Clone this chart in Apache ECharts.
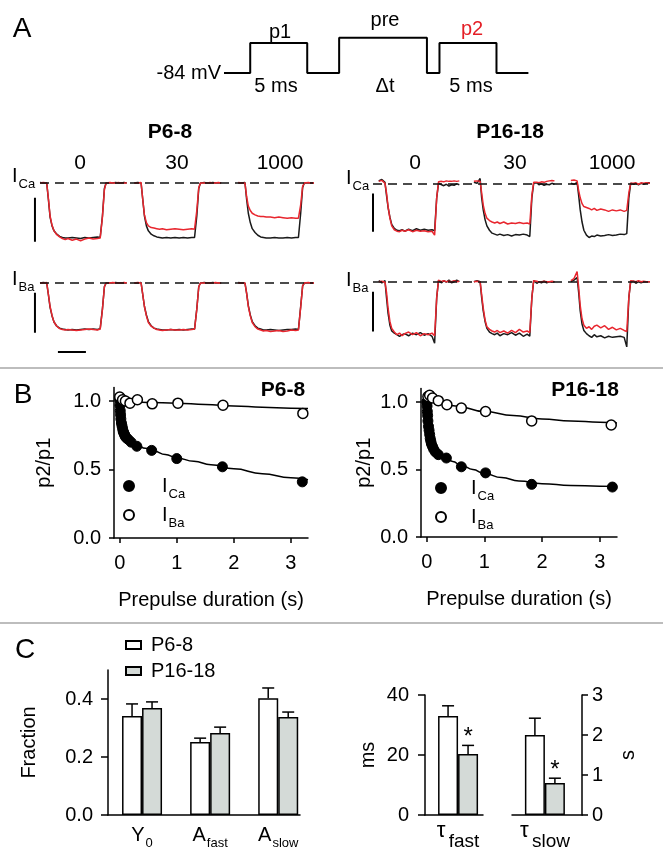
<!DOCTYPE html>
<html><head><meta charset="utf-8">
<script src="https://cdn.jsdelivr.net/npm/echarts@6/dist/echarts.min.js"></script>
<style>html,body{margin:0;padding:0;background:#fff}#c{width:663px;height:860px}</style>
</head><body><div id="c"></div>
<script>
const FONT = "'Liberation Sans', Arial, Helvetica, sans-serif";
const BLACK = '#1a1a1a', RED = '#e8262e', GRAY = '#d4dad7';

// ---------- Panel A: voltage protocol ----------
const protoT = [0, 2.3, 2.3, 7.3, 7.3, 10.1, 10.1, 17.8, 17.8, 18.9, 18.9, 23.9, 23.9, 26.7];
const protoV = [-84, -84, 0, 0, -84, -84, 15, 15, -84, -84, 0, 0, -84, -84];

// ---------- Panel A: current traces (normalized amplitude) ----------
const sweepT = [0,1.2,2.4,3.0,3.6,4.3,5,6,7,8,9,10,11.5,13,14.5,16,17.5,19,20.5,21.5,22.3,23,23.6,24.2,25,26,27,28,29,30,31];
const delayLabels = ['0', '30', '1000'];
const sweepOffsetsL = [0, 33.7, 70.8];
const sweepOffsetsR = [2.2, 38.8, 76.1];

const lCaBlack = [
 [0.01,0,0,-0.3,-0.62,-0.78,-0.87,-0.93,-0.97,-0.99,-1.0,-1.0,-0.99,-1.0,-1.01,-0.99,-1.0,-0.99,-0.98,-0.99,-0.6,-0.1,0,0.01,0,0,0.01,0,0,0.01,0],
 [0,0.01,0,-0.3,-0.6,-0.78,-0.87,-0.93,-0.96,-0.98,-0.99,-1.0,-0.99,-1.0,-0.99,-1.0,-0.99,-1.0,-0.99,-0.99,-0.6,-0.1,0,0,0.01,0,0,0.01,0,0,0],
 [0,0,0.01,-0.3,-0.55,-0.72,-0.83,-0.9,-0.95,-0.98,-0.99,-1.0,-1.0,-0.99,-1.0,-1.0,-0.99,-1.0,-0.99,-0.99,-0.55,-0.08,0,0.01,0,0,0,0.01,0,0,0]
];
const lCaRed = [
 [0,0.01,0,-0.28,-0.6,-0.77,-0.87,-0.94,-0.98,-1.01,-1.03,-1.01,-1.04,-1.02,-1.05,-1.02,-1.0,-1.02,-1.01,-1.0,-0.62,-0.12,0,0,0.01,0,0,0.01,0,0,0],
 [0,0,0.01,-0.3,-0.58,-0.72,-0.78,-0.81,-0.82,-0.83,-0.84,-0.83,-0.85,-0.84,-0.83,-0.84,-0.85,-0.84,-0.83,-0.84,-0.5,-0.08,0,0.01,0,0,0.01,0,0,0.01,0],
 [0.01,0,0,-0.25,-0.42,-0.5,-0.55,-0.58,-0.6,-0.61,-0.61,-0.62,-0.62,-0.63,-0.62,-0.63,-0.64,-0.63,-0.64,-0.64,-0.4,-0.06,0,0,0.01,0,0,0,0.01,0,0]
];
const lBaBlack = [
 [0,0.01,0,-0.25,-0.52,-0.7,-0.83,-0.92,-0.96,-0.98,-0.99,-1.0,-0.99,-1.0,-0.99,-0.98,-0.99,-0.98,-0.99,-0.97,-0.55,-0.08,0,0.01,0,0,0.01,0,0,0,0],
 [0,0,0.01,-0.25,-0.5,-0.68,-0.82,-0.91,-0.96,-0.98,-0.99,-1.0,-1.0,-0.99,-1.0,-0.99,-1.0,-0.99,-0.98,-0.98,-0.55,-0.08,0,0,0.01,0,0,0.01,0,0,0],
 [0.01,0,0,-0.22,-0.48,-0.68,-0.82,-0.91,-0.96,-0.98,-1.0,-1.0,-0.99,-1.0,-1.01,-1.0,-0.99,-0.99,-0.98,-0.99,-0.5,-0.06,0,0.01,0,0,0,0.01,0,0,0]
];
const lBaRed = [
 [0,0,0.01,-0.24,-0.5,-0.69,-0.83,-0.92,-0.97,-0.99,-1.0,-0.99,-1.0,-1.01,-1.0,-0.99,-0.98,-0.99,-1.0,-0.98,-0.56,-0.08,0,0,0,0.01,0,0,0,0.01,0],
 [0,0.01,0,-0.24,-0.5,-0.7,-0.84,-0.92,-0.96,-0.99,-1.0,-1.01,-1.0,-0.99,-1.0,-1.0,-0.99,-1.0,-0.99,-0.98,-0.56,-0.08,0,0.01,0,0,0,0,0.01,0,0],
 [0,0,0,-0.22,-0.5,-0.7,-0.84,-0.93,-0.98,-1.0,-1.02,-1.01,-1.03,-1.02,-1.01,-1.03,-1.02,-1.0,-1.01,-1.0,-0.52,-0.06,0,0,0.01,0,0,0,0,0.01,0]
];
const rCaBlack = [
 [0.05,0.08,0.02,-0.25,-0.5,-0.7,-0.85,-0.93,-0.97,-0.98,-0.96,-0.99,-0.95,-0.98,-0.94,-0.97,-0.95,-0.97,-0.96,-0.98,-0.3,0.0,0.02,-0.03,-0.05,-0.02,-0.06,-0.03,-0.04,-0.01,-0.03],
 [0.02,0.0,0.1,-0.3,-0.55,-0.75,-0.88,-0.97,-1.03,-1.05,-1.07,-1.05,-1.08,-1.06,-1.09,-1.06,-1.07,-1.05,-1.07,-1.1,-0.3,0.0,-0.02,0.01,-0.03,-0.01,-0.04,-0.02,-0.03,0.0,-0.02],
 [0.0,-0.02,0.02,-0.25,-0.55,-0.8,-0.97,-1.07,-1.12,-1.09,-1.1,-1.07,-1.09,-1.08,-1.06,-1.08,-1.07,-1.05,-1.06,-1.04,-0.3,0.0,0.02,-0.02,0.0,-0.03,0.0,-0.02,0.0,0.01,0.0]
];
const rCaRed = [
 [0.04,0.06,0.0,-0.2,-0.48,-0.72,-0.88,-0.96,-0.99,-1.0,-0.97,-0.99,-0.96,-1.0,-0.97,-0.99,-0.98,-1.0,-0.99,-1.07,-0.3,0.03,0.02,0.04,0.03,0.05,0.04,0.04,0.05,0.04,0.05],
 [0.04,0.05,0.04,-0.2,-0.45,-0.62,-0.72,-0.77,-0.8,-0.82,-0.8,-0.83,-0.8,-0.84,-0.82,-0.83,-0.81,-0.83,-0.82,-0.84,-0.25,0.02,0.0,0.02,0.01,0.03,0.02,0.04,0.05,0.06,0.05],
 [0.06,0.07,0.05,-0.15,-0.3,-0.42,-0.48,-0.5,-0.52,-0.55,-0.52,-0.56,-0.53,-0.55,-0.58,-0.55,-0.57,-0.55,-0.58,-0.56,-0.2,0.0,0.02,0.0,0.01,-0.02,0.01,0.0,0.01,0.0,0.01]
];
const rBaBlack = [
 [0.02,-0.02,0.02,-0.3,-0.6,-0.82,-0.93,-0.97,-1.0,-1.03,-1.0,-0.98,-1.02,-0.97,-1.0,-0.96,-1.01,-0.98,-1.03,-1.16,-0.3,0.02,0.0,-0.02,0.02,-0.01,0.03,-0.02,0.0,0.03,0.0],
 [0.0,0.02,0.0,-0.3,-0.55,-0.75,-0.88,-0.95,-0.98,-1.0,-0.97,-1.02,-0.98,-1.0,-0.96,-1.01,-0.97,-1.03,-0.99,-1.03,-0.3,0.02,0.0,-0.03,0.0,-0.02,0.01,-0.02,0.0,-0.01,0.0],
 [0.0,0.03,0.08,-0.2,-0.55,-0.8,-0.92,-0.98,-1.02,-1.05,-1.0,-1.04,-1.02,-1.06,-1.03,-1.05,-1.04,-1.03,-1.05,-1.23,-0.3,0.0,-0.02,0.01,-0.03,0.0,-0.02,0.0,0.0,0.0,0.0]
];
const rBaRed = [
 [0.0,0.01,-0.01,-0.2,-0.5,-0.75,-0.88,-0.95,-1.0,-0.97,-1.02,-0.98,-0.95,-1.0,-0.96,-1.02,-0.98,-1.0,-0.97,-1.02,-0.3,0.03,0.01,0.0,0.02,0.0,0.01,0.0,0.02,0.0,0.01],
 [0.0,0.01,0.0,-0.25,-0.5,-0.72,-0.85,-0.9,-0.93,-0.95,-0.92,-0.96,-0.93,-0.97,-0.92,-0.96,-0.9,-0.95,-0.93,-0.96,-0.3,0.02,0.0,0.01,-0.01,0.0,0.01,0.0,0.0,0.01,0.0],
 [0.02,0.06,0.19,-0.1,-0.45,-0.7,-0.82,-0.88,-0.85,-0.9,-0.84,-0.82,-0.87,-0.83,-0.9,-0.86,-0.91,-0.88,-0.92,-0.94,-0.3,0.02,0.0,0.01,0.0,0.02,0.0,0.01,0.0,0.0,0.0]
];
// scale bars (data units of each trace panel)
const lCaBar = [[-1.8, -0.27], [-1.8, -1.07]];
const lBaBar = [[-1.8, -0.21], [-1.8, -1.06]];
const lTimeBar = [[6.4, -1.47], [16.4, -1.47]];
const rCaBar = [[0, -0.21], [0, -1.0]];
const rBaBar = [[0, -0.19], [0, -0.94]];

// ---------- Panel B: p2/p1 vs prepulse duration ----------
const bTicksX = [0, 1, 2, 3];
const bTicksY = [0, 0.5, 1.0];
const bLeftCaX = [0,0.005,0.01,0.015,0.02,0.03,0.04,0.05,0.06,0.07,0.08,0.09,0.1,0.12,0.15,0.2,0.3,0.56,1.0,1.8,3.2];
const bLeftCaY = [1.01,0.97,0.93,0.9,0.87,0.84,0.82,0.8,0.78,0.77,0.76,0.75,0.74,0.73,0.72,0.7,0.67,0.64,0.58,0.52,0.41];
const bLeftBaX = [0,0.05,0.1,0.18,0.31,0.57,1.02,1.81,3.21];
const bLeftBaY = [1.03,1.01,1.0,0.985,1.01,0.98,0.985,0.97,0.91];
const bRightCaX = [0,0.005,0.01,0.015,0.02,0.03,0.04,0.05,0.06,0.07,0.08,0.1,0.12,0.15,0.2,0.34,0.6,1.02,1.82,3.22];
const bRightCaY = [1.0,0.97,0.93,0.9,0.86,0.82,0.79,0.76,0.73,0.71,0.69,0.67,0.65,0.63,0.61,0.585,0.52,0.475,0.39,0.37];
const bRightBaX = [0.02,0.05,0.1,0.2,0.35,0.6,1.02,1.82,3.2];
const bRightBaY = [1.04,1.05,1.03,1.01,0.98,0.955,0.93,0.86,0.83];
const fitLeftCaX = [0,0.01,0.02,0.04,0.07,0.1,0.15,0.2,0.3,0.45,0.6,0.8,1.0,1.3,1.6,2.0,2.5,3.0,3.3];
const fitLeftCaY = [1.0,0.93,0.88,0.82,0.77,0.75,0.73,0.71,0.68,0.655,0.635,0.61,0.585,0.56,0.535,0.505,0.47,0.44,0.425];
const fitLeftBaX = [0,0.5,1,1.5,2,2.5,3,3.3];
const fitLeftBaY = [1.0,0.99,0.985,0.975,0.965,0.955,0.948,0.945];
const fitRightCaX = [0,0.01,0.02,0.04,0.07,0.1,0.15,0.2,0.3,0.45,0.6,0.8,1.0,1.3,1.6,2.0,2.5,3.0,3.3];
const fitRightCaY = [1.0,0.93,0.87,0.8,0.73,0.69,0.65,0.625,0.595,0.56,0.53,0.5,0.47,0.44,0.415,0.395,0.382,0.376,0.375];
const fitRightBaX = [0,0.2,0.5,1.0,1.5,2.0,2.5,3.0,3.3];
const fitRightBaY = [1.02,1.0,0.97,0.93,0.9,0.875,0.86,0.85,0.845];

// ---------- Panel C: fit parameters ----------
const cGroups = ['P6-8', 'P16-18'];
const cCatLabels = ['{m|Y}{s|0}', '{m|A}{s|fast}', '{m|A}{s|slow}'];
const cTicksY = [0, 0.2, 0.4];
const cWhite = [0.341, 0.252, 0.403];
const cWhiteErr = [0.383, 0.265, 0.438];
const cGray = [0.369, 0.283, 0.338];
const cGrayErr = [0.390, 0.303, 0.355];
const tauFastTicks = [0, 20, 40];
const tauFast = [33.0, 20.3];
const tauFastErr = [36.4, 23.2];
const tauFastSig = [0, 1];
const tauSlowTicks = [0, 1, 2, 3];
const tauSlow = [2.0, 0.80];
const tauSlowErr = [2.42, 0.92];
const tauSlowSig = [0, 1];

// ================= build =================
const axisLineStyle = {color: '#000', width: 1.5};
const hiddenAxis = (gi, min, max) => ({gridIndex: gi, type: 'value', min, max, show: false, splitLine: {show: false}});
const subRich = {
  m: {fontSize: 20, lineHeight: 20, fontFamily: FONT, color: '#000'},
  i: {fontSize: 20, lineHeight: 20, fontFamily: FONT, color: '#000'},
  s: {fontSize: 13, lineHeight: 13, fontFamily: FONT, color: '#000', padding: [17, 0, 0, 1]}
};
const tauRich = {
  t: {fontSize: 22, lineHeight: 22, verticalAlign: 'top', fontFamily: FONT, color: '#000'},
  f: {fontSize: 19, lineHeight: 19, verticalAlign: 'top', padding: [12, 0, 0, 0], fontFamily: FONT, color: '#000'}
};

const grid = [
  {left: 224, top: 35.9, width: 304.4, height: 39.2},        // 0 protocol
  {left: 31.6, top: 166.5, width: 281.4, height: 85.25},     // 1 L ICa
  {left: 31.6, top: 268.9, width: 281.4, height: 89.3},      // 2 L IBa
  {left: 367.8, top: 168.78, width: 280.28, height: 77.44},  // 3 R ICa
  {left: 367.8, top: 265.8, width: 280.28, height: 84.8},    // 4 R IBa
  {left: 114, top: 387.4, width: 194, height: 150.6},        // 5 B left
  {left: 421, top: 388.5, width: 196, height: 148.5},        // 6 B right
  {left: 108, top: 670, width: 192, height: 145},            // 7 C fractions
  {left: 425, top: 695, width: 58, height: 120},             // 8 tau fast
  {left: 512, top: 695, width: 70, height: 120}              // 9 tau slow
];

function bX(gi) {
  return {gridIndex: gi, type: 'value', min: -0.1, max: 3.3, splitLine: {show: false},
    axisLine: {show: true, onZero: false, lineStyle: axisLineStyle},
    axisTick: {show: true, length: 5, customValues: bTicksX, lineStyle: axisLineStyle},
    axisLabel: {customValues: bTicksX, color: '#000', fontSize: 20, fontFamily: FONT, margin: 15},
    name: 'Prepulse duration (s)', nameLocation: 'middle', nameGap: 52,
    nameTextStyle: {color: '#000', fontSize: 20, fontFamily: FONT}};
}
function bY(gi, gap) {
  return {gridIndex: gi, type: 'value', min: 0, max: 1.1, splitLine: {show: false},
    axisLine: {show: true, onZero: false, lineStyle: axisLineStyle},
    axisTick: {show: true, length: 5, customValues: bTicksY, lineStyle: axisLineStyle},
    axisLabel: {customValues: bTicksY, formatter: v => v.toFixed(1), color: '#000', fontSize: 20, fontFamily: FONT, margin: 13},
    name: 'p2/p1', nameLocation: 'middle', nameRotate: 90, nameGap: gap,
    nameTextStyle: {color: '#000', fontSize: 20, fontFamily: FONT}};
}

const xAxis = [
  hiddenAxis(0, 0, 26.7),
  hiddenAxis(1, -3, 97.5),
  hiddenAxis(2, -3, 97.5),
  hiddenAxis(3, -2, 105.8),
  hiddenAxis(4, -2, 105.8),
  bX(5), bX(6),
  {gridIndex: 7, type: 'value', min: -0.5, max: 2.32, splitLine: {show: false},
    axisLine: {show: true, onZero: false, lineStyle: axisLineStyle}, axisTick: {show: false},
    axisLabel: {customValues: [0, 1, 2], formatter: v => cCatLabels[Math.round(v)], margin: 10, rich: subRich}},
  {gridIndex: 8, type: 'value', min: -1.14, max: 0.86, splitLine: {show: false},
    axisLine: {show: true, onZero: false, lineStyle: axisLineStyle}, axisTick: {show: false},
    axisLabel: {customValues: [0], formatter: () => '{t|τ} {f|fast}', margin: 5, rich: tauRich}},
  {gridIndex: 9, type: 'value', min: -0.94, max: 1.06, splitLine: {show: false},
    axisLine: {show: true, onZero: false, lineStyle: axisLineStyle}, axisTick: {show: false},
    axisLabel: {customValues: [0], formatter: () => '{t|τ} {f|slow}', margin: 5, rich: tauRich}}
];
const yAxis = [
  hiddenAxis(0, -90, 20),
  hiddenAxis(1, -1.25, 0.3),
  hiddenAxis(2, -1.6, 0.3),
  hiddenAxis(3, -1.3, 0.3),
  hiddenAxis(4, -1.3, 0.3),
  bY(5, 60), bY(6, 47),
  {gridIndex: 7, type: 'value', min: 0, max: 0.5, splitLine: {show: false},
    axisLine: {show: true, onZero: false, lineStyle: axisLineStyle},
    axisTick: {show: true, length: 7, customValues: cTicksY, lineStyle: axisLineStyle},
    axisLabel: {customValues: cTicksY, formatter: v => v.toFixed(1), color: '#000', fontSize: 20, fontFamily: FONT, margin: 15},
    name: 'Fraction', nameLocation: 'middle', nameRotate: 90, nameGap: 69,
    nameTextStyle: {color: '#000', fontSize: 20, fontFamily: FONT}},
  {gridIndex: 8, type: 'value', min: 0, max: 40, splitLine: {show: false},
    axisLine: {show: true, onZero: false, lineStyle: axisLineStyle},
    axisTick: {show: true, length: 7, customValues: tauFastTicks, lineStyle: axisLineStyle},
    axisLabel: {customValues: tauFastTicks, color: '#000', fontSize: 20, fontFamily: FONT, margin: 16},
    name: 'ms', nameLocation: 'middle', nameRotate: 90, nameGap: 47,
    nameTextStyle: {color: '#000', fontSize: 20, fontFamily: FONT}},
  {gridIndex: 9, type: 'value', position: 'right', min: 0, max: 3, splitLine: {show: false},
    axisLine: {show: true, onZero: false, lineStyle: axisLineStyle},
    axisTick: {show: true, length: 6, customValues: tauSlowTicks, lineStyle: axisLineStyle},
    axisLabel: {customValues: tauSlowTicks, color: '#000', fontSize: 20, fontFamily: FONT, margin: 10},
    name: 's', nameLocation: 'middle', nameRotate: 90, nameGap: 36,
    nameTextStyle: {color: '#000', fontSize: 20, fontFamily: FONT}}
];

const series = [];
const zipXY = (xs, ys) => xs.map((x, i) => [x, ys[i]]);
function lineS(gi, data, color, width, extra) {
  return Object.assign({type: 'line', xAxisIndex: gi, yAxisIndex: gi, data, symbol: 'none', silent: true,
    animation: false, lineStyle: {color, width}, z: 2}, extra || {});
}
// protocol
series.push(lineS(0, zipXY(protoT, protoV), '#000', 2));
// traces
function addTraces(gi, offsets, blacks, reds) {
  blacks.forEach((amps, s) => series.push(lineS(gi, sweepT.map((t, i) => [t + offsets[s], amps[i]]), BLACK, 1.5)));
  reds.forEach((amps, s) => series.push(lineS(gi, sweepT.map((t, i) => [t + offsets[s], amps[i]]), RED, 1.5)));
}
addTraces(1, sweepOffsetsL, lCaBlack, lCaRed);
addTraces(2, sweepOffsetsL, lBaBlack, lBaRed);
addTraces(3, sweepOffsetsR, rCaBlack, rCaRed);
addTraces(4, sweepOffsetsR, rBaBlack, rBaRed);
// zero (dashed) lines + scale bars
function dashed(xEnd) {
  return {silent: true, symbol: ['none', 'none'], label: {show: false},
    lineStyle: {type: [9, 6], color: '#111', width: 1.5},
    data: [[{coord: [0, 0]}, {coord: [xEnd, 0]}]]};
}
series.push(lineS(1, lCaBar, '#000', 2, {z: 5, markLine: dashed(97.5)}));
series.push(lineS(2, lBaBar, '#000', 2, {z: 5, markLine: dashed(97.5)}));
series.push(lineS(2, lTimeBar, '#000', 2, {z: 5}));
series.push(lineS(3, rCaBar, '#000', 2, {z: 5, markLine: dashed(105.8)}));
series.push(lineS(4, rBaBar, '#000', 2, {z: 5, markLine: dashed(105.8)}));

// panel B fits and points
const fitOpt = {smooth: true, smoothMonotone: 'x'};
series.push(lineS(5, zipXY(fitLeftCaX, fitLeftCaY), '#000', 1.5, fitOpt));
series.push(lineS(5, zipXY(fitLeftBaX, fitLeftBaY), '#000', 1.5, fitOpt));
series.push(lineS(6, zipXY(fitRightCaX, fitRightCaY), '#000', 1.5, fitOpt));
series.push(lineS(6, zipXY(fitRightBaX, fitRightBaY), '#000', 1.5, fitOpt));
const filledStyle = {color: '#000', borderColor: '#000', borderWidth: 1, opacity: 1};
const openStyle = {color: '#fff', borderColor: '#000', borderWidth: 1.5, opacity: 1};
function scat(gi, name, xs, ys, style) {
  return {type: 'scatter', name, xAxisIndex: gi, yAxisIndex: gi, data: zipXY(xs, ys), symbol: 'circle',
    symbolSize: 10, itemStyle: style, z: 4, silent: true, animation: false};
}
series.push(scat(5, 'ICa', bLeftCaX, bLeftCaY, filledStyle));
series.push(scat(5, 'IBa', bLeftBaX, bLeftBaY, openStyle));
series.push(scat(6, 'ICa', bRightCaX, bRightCaY, filledStyle));
series.push(scat(6, 'IBa', bRightBaX, bRightBaY, openStyle));

// panel C bars
function bar(gi, name, xs, ys, fill) {
  return {type: 'bar', name, xAxisIndex: gi, yAxisIndex: gi, data: zipXY(xs, ys), barWidth: 20, barGap: '0%',
    itemStyle: {color: fill, borderColor: '#000', borderWidth: 1.5}, silent: true, animation: false};
}
function errBars(gi, xs, tops, means, sigs, dx) {
  return {type: 'custom', xAxisIndex: gi, yAxisIndex: gi, silent: true, animation: false, z: 3,
    data: xs.map((x, i) => [x, tops[i], means[i], sigs ? sigs[i] : 0]),
    encode: {x: 0, y: [1, 2]},
    renderItem: (params, api) => {
      const pT = api.coord([api.value(0), api.value(1)]);
      const pM = api.coord([api.value(0), api.value(2)]);
      const cx = pT[0] + dx;
      const st = {stroke: '#000', lineWidth: 1.5};
      const ch = [
        {type: 'line', shape: {x1: cx, y1: pM[1], x2: cx, y2: pT[1]}, style: st},
        {type: 'line', shape: {x1: cx - 6, y1: pT[1], x2: cx + 6, y2: pT[1]}, style: st}
      ];
      if (api.value(3)) ch.push({type: 'text', x: cx, y: pT[1] - 20,
        style: {text: '*', fontSize: 24, fontFamily: FONT, fill: '#000', align: 'center', verticalAlign: 'top'}});
      return {type: 'group', children: ch};
    }};
}
const catX = [0, 1, 2];
series.push(bar(7, cGroups[0], catX, cWhite, '#fff'));
series.push(bar(7, cGroups[1], catX, cGray, GRAY));
series.push(errBars(7, catX, cWhiteErr, cWhite, null, -10));
series.push(errBars(7, catX, cGrayErr, cGray, null, 10));
series.push(bar(8, cGroups[0], [0], [tauFast[0]], '#fff'));
series.push(bar(8, cGroups[1], [0], [tauFast[1]], GRAY));
series.push(errBars(8, [0], [tauFastErr[0]], [tauFast[0]], [tauFastSig[0]], -10));
series.push(errBars(8, [0], [tauFastErr[1]], [tauFast[1]], [tauFastSig[1]], 10));
series.push(bar(9, cGroups[0], [0], [tauSlow[0]], '#fff'));
series.push(bar(9, cGroups[1], [0], [tauSlow[1]], GRAY));
series.push(errBars(9, [0], [tauSlowErr[0]], [tauSlow[0]], [tauSlowSig[0]], -10));
series.push(errBars(9, [0], [tauSlowErr[1]], [tauSlow[1]], [tauSlowSig[1]], 10));

// legends
const legB = (left, top, pad) => ({left, top, orient: 'vertical', itemWidth: 10, itemHeight: 10, itemGap: -1,
  icon: 'circle', selectedMode: false, data: ['ICa', 'IBa'],
  formatter: n => n === 'ICa' ? '{i|I}{s|Ca}' : '{i|I}{s|Ba}',
  textStyle: {rich: {i: Object.assign({}, subRich.i, {padding: [0, 0, 0, pad]}), s: subRich.s}}});
const legend = [
  legB(118, 466, 23),
  legB(430, 468, 20),
  {left: 120, top: 630, orient: 'vertical', itemWidth: 15, itemHeight: 8, itemGap: 6, icon: 'rect',
    selectedMode: false, data: cGroups, formatter: '{a|{name}}',
    textStyle: {rich: {a: {fontSize: 20, lineHeight: 22, fontFamily: FONT, color: '#000', padding: [0, 0, 0, 5]}}}}
];

// annotations
function txt(x, y, text, extra) {
  return {type: 'text', x, y, silent: true, z: 10,
    style: Object.assign({text, fill: '#000', fontSize: 20, fontFamily: FONT, align: 'center', verticalAlign: 'middle'}, extra || {})};
}
const richI = {rich: subRich, align: 'left'};
const graphic = [
  {type: 'line', silent: true, shape: {x1: 0, y1: 368, x2: 663, y2: 368}, style: {stroke: '#bdbdbd', lineWidth: 2}},
  {type: 'line', silent: true, shape: {x1: 0, y1: 623, x2: 663, y2: 623}, style: {stroke: '#bdbdbd', lineWidth: 2}},
  txt(22, 29, 'A', {fontSize: 28}),
  txt(23, 395, 'B', {fontSize: 28}),
  txt(25, 650, 'C', {fontSize: 28}),
  txt(221, 73, '-84 mV', {align: 'right'}),
  txt(280, 32, 'p1'), txt(385, 20, 'pre'), txt(472, 29, 'p2', {fill: '#e41f26'}),
  txt(276, 86, '5 ms'), txt(385, 86, 'Δt'), txt(471, 86, '5 ms'),
  txt(170, 132, 'P6-8', {fontWeight: 'bold', fontSize: 21}),
  txt(510, 132, 'P16-18', {fontWeight: 'bold', fontSize: 21}),
  txt(80, 163, delayLabels[0], {fontSize: 21}), txt(177, 163, delayLabels[1], {fontSize: 21}), txt(280, 163, delayLabels[2], {fontSize: 21}),
  txt(415, 163, delayLabels[0], {fontSize: 21}), txt(515, 163, delayLabels[1], {fontSize: 21}), txt(612, 163, delayLabels[2], {fontSize: 21}),
  txt(12, 176, '{i|I}{s|Ca}', richI), txt(346, 178, '{i|I}{s|Ca}', richI),
  txt(12, 279, '{i|I}{s|Ba}', richI), txt(346, 280, '{i|I}{s|Ba}', richI),
  txt(283, 390, 'P6-8', {fontWeight: 'bold', fontSize: 21}),
  txt(585, 390, 'P16-18', {fontWeight: 'bold', fontSize: 21})
];

const chart = echarts.init(document.getElementById('c'), null, {renderer: 'canvas'});
chart.setOption({animation: false, backgroundColor: '#fff', textStyle: {fontFamily: FONT},
  grid, xAxis, yAxis, series, legend, graphic});
</script>
</body></html>
